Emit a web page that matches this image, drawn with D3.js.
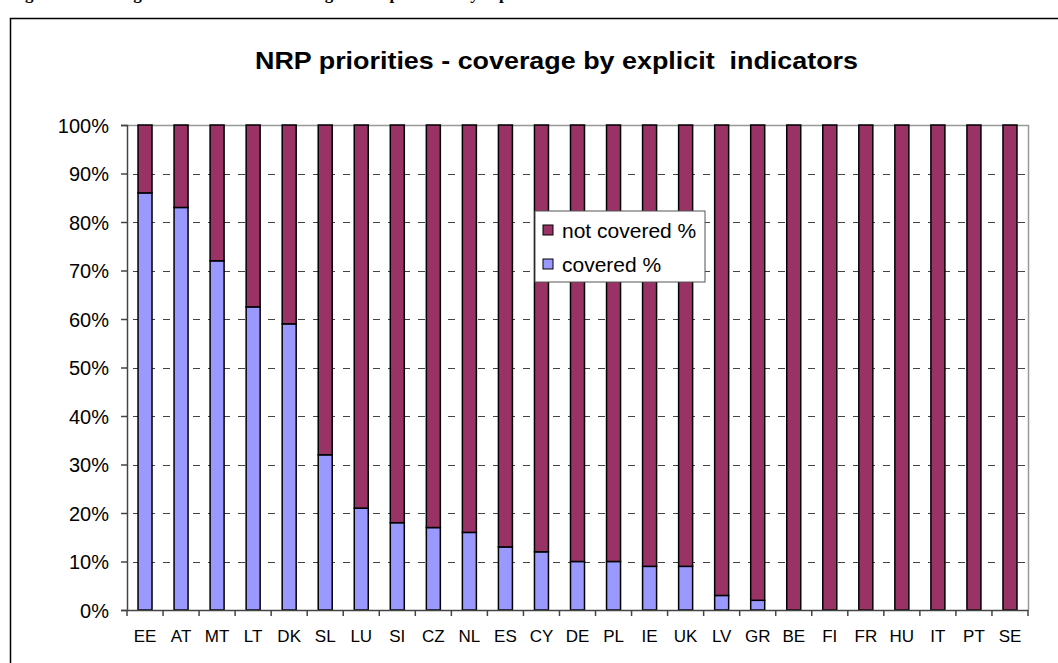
<!DOCTYPE html>
<html>
<head>
<meta charset="utf-8">
<script src="https://cdn.jsdelivr.net/npm/d3@7"></script>
<style>
  body { margin: 0; background: #fff; overflow: hidden; }
  svg { display: block; }
  text { font-family: Arial, "Liberation Sans", sans-serif; fill: #000; }
</style>
</head>
<body>
<svg id="chart" width="1058" height="663"></svg>
<script>
// NRP priorities - coverage by explicit indicators
const countries = ["EE", "AT", "MT", "LT", "DK", "SL", "LU", "SI", "CZ", "NL", "ES", "CY", "DE",
  "PL", "IE", "UK", "LV", "GR", "BE", "FI", "FR", "HU", "IT", "PT", "SE"];
const covered = [86, 83, 72, 62.5, 59, 32, 21, 18, 17, 16, 13, 12, 10,
  10, 9, 9, 3, 2, 0, 0, 0, 0, 0, 0, 0];
const notCovered = covered.map(v => 100 - v);
const seriesNames = ["covered %", "not covered %"];
const yTicks = [0, 10, 20, 30, 40, 50, 60, 70, 80, 90, 100];

const colors = { "covered %": "#9999FF", "not covered %": "#993366" };

const svg = d3.select("#chart");
const plot = { left: 127, right: 1028, top: 125, bottom: 610 };

// caption above the chart frame (cut off at the top edge, as in the source page)
svg.append("text")
  .attr("x", 10)
  .attr("y", -1)
  .style("font-family", "'Liberation Serif', 'Times New Roman', serif")
  .style("font-weight", "bold")
  .style("font-size", "17px")
  .text("Figure 6: Coverage of National Reform Programme priorities by explicit indicators");

// chart frame
svg.append("rect")
  .attr("x", 10.5).attr("y", 18.5)
  .attr("width", 1100).attr("height", 700)
  .attr("fill", "#fff")
  .attr("stroke", "#000")
  .attr("stroke-width", 1.5);

svg.append("text")
  .attr("x", 255)
  .attr("y", 69)
  .attr("textLength", 603)
  .attr("lengthAdjust", "spacingAndGlyphs")
  .style("font-weight", "bold")
  .style("font-size", "24px")
  .style("white-space", "pre")
  .text("NRP priorities - coverage by explicit  indicators");

const x = d3.scaleBand().domain(countries).range([plot.left, plot.right]).padding(0);
const y = d3.scaleLinear().domain([0, 100]).range([plot.bottom, plot.top]);
const barW = 14;

// dashed gridlines
svg.append("g")
  .selectAll("line")
  .data(yTicks.filter(d => d > 0 && d < 100))
  .enter()
  .append("line")
  .attr("x1", plot.left).attr("x2", plot.right)
  .attr("y1", d => Math.round(y(d)) + 0.5).attr("y2", d => Math.round(y(d)) + 0.5)
  .attr("stroke", "#444")
  .attr("stroke-width", 1)
  .attr("stroke-dasharray", "7,8")
  .attr("stroke-dashoffset", -6);

// plot area border (top and right)
svg.append("path")
  .attr("d", `M${plot.left},${plot.top + 0.5}H${plot.right + 0.5}V${plot.bottom}`)
  .attr("fill", "none")
  .attr("stroke", "#999")
  .attr("stroke-width", 1.5);

// stacked bars
const rows = countries.map((c, i) => ({ c, "covered %": covered[i], "not covered %": notCovered[i] }));
const stack = d3.stack().keys(seriesNames)(rows);

svg.append("g")
  .selectAll("g")
  .data(stack)
  .enter()
  .append("g")
  .attr("fill", d => colors[d.key])
  .selectAll("rect")
  .data(d => d.filter(s => s[1] - s[0] > 0))
  .enter()
  .append("rect")
  .attr("x", d => x(d.data.c) + x.bandwidth() / 2 - barW / 2)
  .attr("y", d => y(d[1]))
  .attr("width", barW)
  .attr("height", d => y(d[0]) - y(d[1]))
  .attr("stroke", "#000")
  .attr("stroke-width", 1.5);

// y axis
const yAxis = svg.append("g")
  .attr("transform", `translate(${plot.left},0)`)
  .call(d3.axisLeft(y).tickValues(yTicks).tickSize(6).tickPadding(12).tickFormat(d => d + "%"));
yAxis.select(".domain").attr("stroke", "#444").attr("stroke-width", 1.5);
yAxis.selectAll(".tick line").attr("stroke", "#444").attr("stroke-width", 1.5);
yAxis.selectAll("text").style("font-size", "20px").attr("dy", "0.36em");

// x axis: labels at centres, ticks at category boundaries
const xAxis = svg.append("g")
  .attr("transform", `translate(0,${plot.bottom})`)
  .call(d3.axisBottom(x).tickSize(0).tickPadding(20));
xAxis.select(".domain").attr("stroke", "#444").attr("stroke-width", 1.5);
xAxis.selectAll("text").style("font-size", "17px");

xAxis.append("g")
  .selectAll("line")
  .data(countries.map(c => x(c)).concat([plot.right]))
  .enter()
  .append("line")
  .attr("x1", d => d).attr("x2", d => d)
  .attr("y1", 0).attr("y2", 6)
  .attr("stroke", "#444")
  .attr("stroke-width", 1.5);

// legend
const legend = svg.append("g").attr("transform", "translate(535,211)");
legend.append("rect")
  .attr("width", 170).attr("height", 71)
  .attr("fill", "#fff")
  .attr("stroke", "#555")
  .attr("stroke-width", 1);

const legendItems = ["not covered %", "covered %"];
legendItems.forEach((name, i) => {
  const gy = 19 + i * 34;
  legend.append("rect")
    .attr("x", 8).attr("y", gy - 5)
    .attr("width", 10).attr("height", 10)
    .attr("fill", colors[name])
    .attr("stroke", "#000")
    .attr("stroke-width", 1);
  legend.append("text")
    .attr("x", 27).attr("y", gy)
    .attr("dy", "0.36em")
    .style("font-size", "21px")
    .text(name);
});
</script>
</body>
</html>
